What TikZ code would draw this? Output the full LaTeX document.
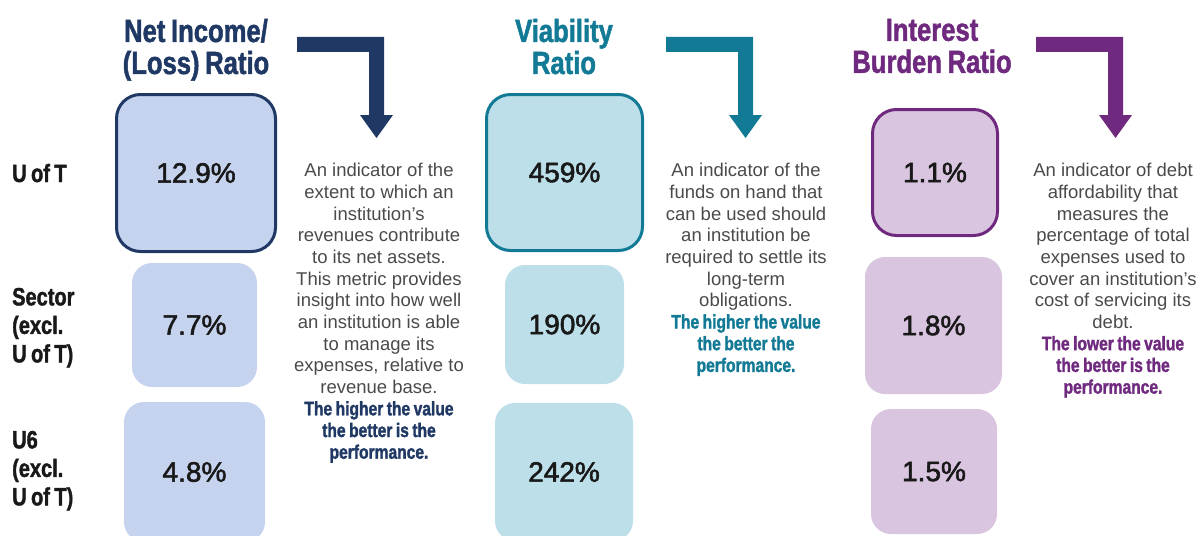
\documentclass[tikz,border=0pt]{standalone}
\usepackage{fontspec}
\setmainfont{Liberation Sans}
\newfontfamily\headfont[FakeStretch=0.8, WordSpace=0.8, BoldFeatures={FakeBold=1.5}]{Liberation Sans}
\newfontfamily\numfont[FakeBold=2]{Liberation Sans}
\definecolor{navy}{HTML}{1F3864}
\definecolor{teal}{HTML}{137A96}
\definecolor{purp}{HTML}{6F2A7F}
\definecolor{navyfill}{HTML}{C5D3EE}
\definecolor{tealfill}{HTML}{BDDFE9}
\definecolor{purpfill}{HTML}{D9C5DF}
\definecolor{descgray}{HTML}{4A4A4A}
\newcommand{\punch}{\headfont\bfseries\fontsize{19.5}{21.7}\selectfont}
\begin{document}
\begin{tikzpicture}[x=1pt,y=-1pt,
  valbox/.style={rectangle, rounded corners=20pt, inner sep=0pt, font=\numfont\fontsize{28}{32}\selectfont, text=black!90},
  toprow/.style={draw, line width=3pt, rounded corners=24pt},
  head/.style={anchor=north, inner sep=0pt, text width=220pt, align=flush center, font=\headfont\bfseries\fontsize{32}{32}\selectfont},
  desc/.style={anchor=north, inner sep=0pt, text width=200pt, align=flush center, font=\fontsize{18.5}{21.7}\selectfont, text=descgray},
  rowlab/.style={anchor=north west, inner sep=0pt, align=flush left, text width=100pt, font=\headfont\bfseries\fontsize{25}{28.5}\selectfont, text=black!90}
]
\useasboundingbox (0,0) rectangle (1198,535);
\clip (0,0) rectangle (1198,535);

% headers
\node[head, text=navy] (h1) at (196,18.6) {Net Income/\\(Loss) Ratio};
\node[head, text=teal] (h2) at (564,18.6) {Viability\\Ratio};
\node[head, text=purp] (h3) at (932,18.6) {Interest\\Burden Ratio};

% bent arrows
\foreach \dx/\col in {0/navy, 369/teal, 739/purp}
  \fill[\col, shift={(\dx,0)}] (297,37) -- (384,37) -- (384,115) -- (393,115) -- (376.5,138)
     -- (360,115) -- (369,115) -- (369,52) -- (297,52) -- cycle;

% row labels
\node[anchor=base west, inner sep=0pt, font=\headfont\bfseries\fontsize{25}{28.5}\selectfont, text=black!90] (r1) at (12,182) {U of T};
\node[rowlab] (r2) at (12,287.7) {Sector\\(excl.\\U of T)};
\node[rowlab] (r3) at (12,430.7) {U6\\(excl.\\U of T)};

% column 1 values
\node[valbox, toprow, fill=navyfill, draw=navy, minimum width=159pt, minimum height=157pt] (a1) at (196,173) {12.9\%};
\node[valbox, fill=navyfill, minimum width=125pt, minimum height=124pt] (a2) at (194.5,325) {7.7\%};
\node[valbox, fill=navyfill, minimum width=141pt, minimum height=140pt] (a3) at (194.5,472) {4.8\%};

% column 2 values
\node[valbox, toprow, fill=tealfill, draw=teal, minimum width=156pt, minimum height=156pt] (b1) at (564.5,172.5) {459\%};
\node[valbox, fill=tealfill, minimum width=119pt, minimum height=119pt] (b2) at (564.5,324.5) {190\%};
\node[valbox, fill=tealfill, minimum width=138pt, minimum height=138pt] (b3) at (564,472) {242\%};

% column 3 values
\node[valbox, toprow, fill=purpfill, draw=purp, minimum width=125pt, minimum height=126pt] (c1) at (935,172.5) {1.1\%};
\node[valbox, fill=purpfill, minimum width=137pt, minimum height=137pt] (c2) at (933.5,325.5) {1.8\%};
\node[valbox, fill=purpfill, minimum width=126pt, minimum height=125pt] (c3) at (934,471.5) {1.5\%};

% descriptions
\node[desc] (d1) at (379,163) {An indicator of the\\extent to which an\\institution’s\\revenues contribute\\to its net assets.\\This metric provides\\insight into how well\\an institution is able\\to manage its\\expenses, relative to\\revenue base.\\{\punch\color{navy}The higher the value\\the better is the\\performance.}};
\node[desc] (d2) at (746,163) {An indicator of the\\funds on hand that\\can be used should\\an institution be\\required to settle its\\long-term\\obligations.\\{\punch\color{teal}The higher the value\\the better the\\performance.}};
\node[desc] (d3) at (1113,163) {An indicator of debt\\affordability that\\measures the\\percentage of total\\expenses used to\\cover an institution’s\\cost of servicing its\\debt.\\{\punch\color{purp}The lower the value\\the better is the\\performance.}};
\end{tikzpicture}
\end{document}
